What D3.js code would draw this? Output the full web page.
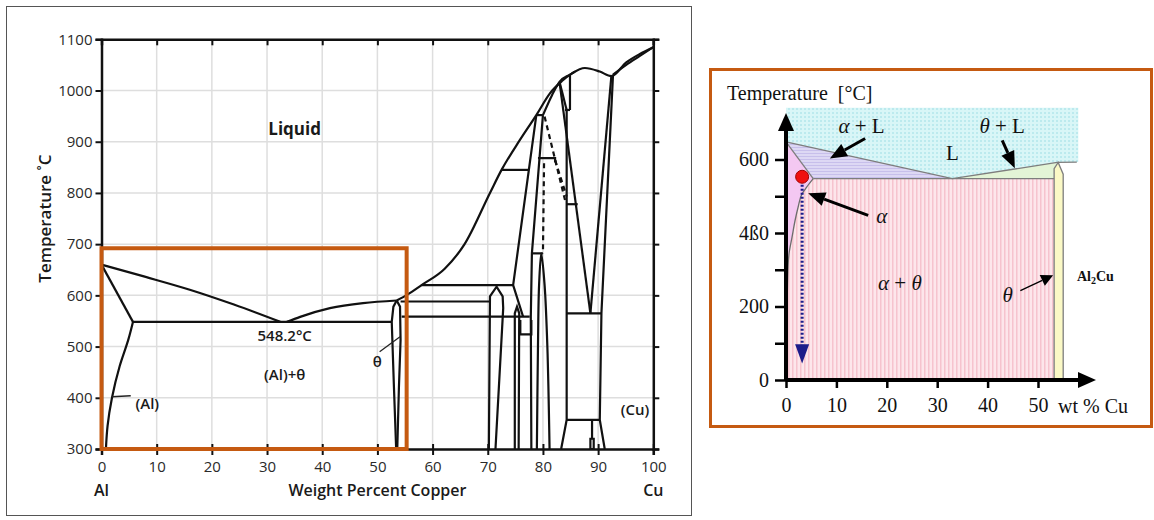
<!DOCTYPE html>
<html>
<head>
<meta charset="utf-8">
<script src="https://cdn.jsdelivr.net/npm/d3@7"></script>
<style>
  body { margin: 0; background: #fff; }
  svg { display: block; }
</style>
</head>
<body>
<svg id="chart" width="1154" height="520"></svg>
<script>
// ===== left panel: Al-Cu phase diagram, points are [wt% Cu, temperature C] =====
const wtTicks = d3.range(0, 101, 10)
const tempTicks = d3.range(300, 1101, 100)

const liquidusAl = [[0, 660], [8, 636], [16, 611], [24, 582], [32.4, 548.2]]
const liquidusTheta = [[33.6, 548.2], [36, 558], [41.4, 575], [47.4, 585], [53.5, 590]]
const liquidusCu = [[53.5, 590], [55.5, 602], [58, 620], [62.2, 652], [65.8, 700], [70.4, 800],
  [72.5, 845], [75.8, 903], [78.8, 952], [81.3, 995], [83.4, 1018], [85.2, 1033], [87.6, 1044],
  [90.3, 1037], [92.4, 1028], [95.1, 1055], [97.5, 1071], [100, 1084.6]]
const solidusAl = [[0, 660], [5.7, 548.2]]
const eutectic = [[5.7, 548.2], [52.6, 548.2]]
const solvusAl = [[5.7, 548.2], [4.9, 515], [3.3, 462], [1.9, 400], [1.1, 345], [0.85, 310], [0.8, 300]]
const thetaLeft = [[53.5, 590], [52.9, 578], [52.6, 548.2], [53.0, 420], [53.4, 300]]
const thetaRight = [[53.5, 590], [54.1, 578], [54.2, 513], [53.9, 420], [53.6, 300]]
const h620 = [[58, 620], [74.6, 620]]
const h588 = [[54.2, 588], [70.4, 588]]
const h558 = [[54.4, 558.4], [77.6, 558.4]]
const h845 = [[72.5, 845], [77.5, 845]]
const h952 = [[78.8, 952], [80.0, 952]]
const h868 = [[79.1, 868], [82.2, 868], [82.2, 860]]
const h778 = [[84.3, 778], [86.3, 778]]
const h962 = [[84.0, 962], [84.9, 962]]
const h682 = [[78.0, 682], [80.0, 682]]
const h565 = [[84.2, 565], [90.6, 565]]
const h357 = [[84.3, 357], [90.3, 357]]
const etaHouse = [[70.2, 300], [70.4, 598], [71.6, 617], [72.7, 598], [72.8, 575], [71.4, 300]]
const smallHouse = [[74.9, 300], [74.9, 565], [75.3, 578], [75.7, 565], [75.6, 300]]
const smallBox = [[75.9, 552], [75.9, 524], [77.9, 524], [77.9, 552]]
const gammaLeft = [[78.8, 952], [74.6, 620], [76.4, 558.4]]
const gammaRight = [[80.0, 952], [78.0, 682], [77.8, 558.4], [77.9, 300]]
const dome = [[78.9, 300], [79.1, 500], [79.3, 620], [79.7, 682], [80.3, 620], [80.8, 500], [81.2, 300]]
const solidusBeta = [[80.0, 952], [81.6, 990], [83.0, 1017], [84.9, 1031], [85.8, 1037]]
const betaStep = [[83.0, 1017], [84.3, 962]]
const gamma1 = [[84.3, 962], [84.3, 357], [83.3, 300]]
const betaTick = [[84.9, 1031], [84.9, 962]]
const vLeft = [[83.0, 1017], [88.6, 565]]
const vRight = [[92.4, 1028], [88.6, 565]]
const solvusCu = [[92.7, 1031], [90.6, 565], [90.3, 357], [91.2, 300]]
const solidusCu = [[92.7, 1031], [95.1, 1050], [97.5, 1067], [100, 1084.6]]
const alpha2 = [[88.9, 357], [88.9, 320], [88.6, 320], [88.6, 300], [89.2, 300], [89.2, 320], [88.9, 320]]
const dash1 = [[80.3, 949], [84.0, 786]]
const dash2 = [[82.2, 864], [84.3, 793]]
const dash3 = [[80.2, 858], [80.0, 682]]
const thetaLeader = [[54.1, 519], [50.4, 490]]
const alLeader = [[1.9, 402], [5.3, 404]]
const zoomBox = [[0, 300], [0, 692], [55.3, 692], [55.3, 300]]

// ===== right panel: schematic, points are [wt% Cu, temperature C] =====
const rTempTicks = [0, 200, 400, 600]
const rTempLabels = ['0', '200', '4ß0', '600']
const rMinorTicks = [100, 300, 500]
const rWtTicks = [0, 10, 20, 30, 40, 50]
const rLiquidus = [[0, 648], [33, 548], [53.8, 592], [57.7, 593]]
const rSolidus = [[0, 648], [5.4, 548]]
const rEutectic = [[5.4, 548], [53.2, 548]]
const rSolvus = [[5.4, 548], [4.1, 525], [3.2, 507], [2.4, 470], [1.8, 434], [1.2, 389], [0.6, 344], [0.4, 308], [0.2, 171]]
const rTheta = [[53.2, 0], [53.2, 575], [54, 592], [55, 560], [55, 0]]
const rLiquidBox = [[0, 741], [58, 741], [58, 593], [53.8, 592], [33, 548], [0, 648]]
const alloyPoint = [3.2, 553]
const coolEnd = 45

const svg = d3.select('#chart')
const defs = svg.append('defs')

// ---------------- left panel ----------------
const xL = d3.scaleLinear().domain([0, 100]).range([101.5, 653.3])
const yL = d3.scaleLinear().domain([300, 1100]).range([449, 39.3])
const lineL = d3.line().x(d => xL(d[0])).y(d => yL(d[1]))
const smoothX = d3.line().x(d => xL(d[0])).y(d => yL(d[1])).curve(d3.curveMonotoneX)
const smoothY = d3.line().x(d => xL(d[0])).y(d => yL(d[1])).curve(d3.curveMonotoneY)
const roundL = d3.line().x(d => xL(d[0])).y(d => yL(d[1])).curve(d3.curveCatmullRom)

const left = svg.append('g')
left.append('rect').attr('x', 6.5).attr('y', 6.5).attr('width', 685).attr('height', 509)
  .attr('fill', '#fff').attr('stroke', '#555').attr('stroke-width', 1)

// grid
left.append('g').selectAll('line.gx').data(wtTicks.slice(1, -1)).join('line')
  .attr('x1', d => xL(d)).attr('x2', d => xL(d)).attr('y1', yL(300)).attr('y2', yL(1100))
  .attr('stroke', '#dedede').attr('stroke-width', 1.5)
left.append('g').selectAll('line.gy').data(tempTicks.slice(1, -1)).join('line')
  .attr('y1', d => yL(d)).attr('y2', d => yL(d)).attr('x1', xL(0)).attr('x2', xL(100))
  .attr('stroke', '#dedede').attr('stroke-width', 1.5)

const styleAxis = g => {
  g.select('.domain').attr('stroke', '#111').attr('stroke-width', 2.5)
  g.selectAll('.tick line').attr('stroke', '#111').attr('stroke-width', 2)
  g.selectAll('.tick text').attr('fill', '#2a2a2a').style('font', '15px "Open Sans"')
}

left.append('g').attr('transform', `translate(${xL(0)},0)`)
  .call(d3.axisLeft(yL).tickValues(tempTicks).tickSize(6).tickPadding(3).tickFormat(d3.format('d')))
  .call(styleAxis)
left.append('g').attr('transform', `translate(${xL(100)},0)`)
  .call(d3.axisRight(yL).tickValues(tempTicks).tickSize(6).tickFormat(''))
  .call(styleAxis)
left.append('g').attr('transform', `translate(0,${yL(1100)})`)
  .call(d3.axisTop(xL).tickValues(wtTicks).tickSize(-6).tickFormat(''))
  .call(styleAxis)
left.append('g').attr('transform', `translate(0,${yL(300)})`)
  .call(d3.axisBottom(xL).tickValues(wtTicks).tickSize(6).tickPadding(6))
  .call(styleAxis)
  .call(g => g.selectAll('.tick line').attr('y1', -5))

// phase boundaries
const solid = [solidusAl, eutectic, thetaLeft, thetaRight,
  h620, h588, h558, h845, h952, h868, h778, h962, h682, h565, h357, etaHouse, smallHouse, smallBox,
  gammaLeft, gammaRight, betaStep, gamma1, betaTick, vLeft, vRight, solvusCu, alpha2]
const stroke = sel => sel.attr('fill', 'none').attr('stroke', '#111').attr('stroke-width', 2.2)
left.append('g').selectAll('path').data(solid).join('path').attr('d', lineL).call(stroke)
left.append('g').selectAll('path').data([liquidusAl, liquidusTheta, liquidusCu, solidusBeta, solidusCu]).join('path')
  .attr('d', smoothX).call(stroke)
left.append('path').attr('d', smoothY(solvusAl)).call(stroke)
left.append('path').attr('d', roundL(dome)).call(stroke)
left.append('g').selectAll('path').data([dash1, dash2, dash3]).join('path')
  .attr('d', lineL).call(stroke).attr('stroke-dasharray', '5,4')
left.append('g').selectAll('path').data([thetaLeader, alLeader]).join('path')
  .attr('d', lineL).attr('fill', 'none').attr('stroke', '#222').attr('stroke-width', 1.3)

// orange highlight box
left.append('path').attr('d', lineL(zoomBox) + 'Z').attr('fill', 'none')
  .attr('stroke', '#c55a11').attr('stroke-width', 4)

// labels
const labL = (txt, x, y, size, weight) => left.append('text').attr('x', x).attr('y', y)
  .attr('text-anchor', 'middle').attr('dominant-baseline', 'central')
  .style('font', `${weight} ${size}px "Open Sans"`).attr('fill', '#1a1a1a').text(txt)
labL('Liquid', xL(35), yL(926), 17, 700)
labL('548.2°C', xL(33.2), yL(523), 15, 600)
labL('(Al)+θ', xL(33.2), yL(446), 15, 600)
labL('θ', xL(50), yL(472), 15, 600)
labL('(Al)', xL(8.3), yL(389), 15, 600)
labL('(Cu)', xL(96.7), yL(379), 15, 600)
labL('Al', xL(0), 490, 16, 600)
labL('Cu', xL(100), 490, 16, 600)
labL('Weight Percent Copper', xL(50), 490, 16, 600)
left.append('text').attr('transform', `translate(44,${yL(750)}) rotate(-90)`)
  .attr('text-anchor', 'middle').attr('dominant-baseline', 'central')
  .style('font', '600 17px "Open Sans"').attr('fill', '#1a1a1a').text('Temperature ˚C')

// ---------------- right panel ----------------
const xR = d3.scaleLinear().domain([0, 50]).range([786, 1038])
const yR = d3.scaleLinear().domain([0, 600]).range([380, 159.5])
const lineR = d3.line().x(d => xR(d[0])).y(d => yR(d[1]))
const curveR = d3.line().x(d => xR(d[0])).y(d => yR(d[1])).curve(d3.curveMonotoneY)

const pat = (id, w, h, bg, draw) => {
  const p = defs.append('pattern').attr('id', id).attr('patternUnits', 'userSpaceOnUse')
    .attr('width', w).attr('height', h)
  p.append('rect').attr('width', w).attr('height', h).attr('fill', bg)
  draw(p)
}
pat('dots', 4, 4, '#d9f6f7', p => p.append('circle').attr('cx', 1).attr('cy', 1).attr('r', 1).attr('fill', '#b3e6ec'))
pat('hlines', 4, 3, '#ddd8f4', p => p.append('rect').attr('width', 4).attr('height', 1).attr('fill', '#c7bfeb'))
pat('vlines', 4, 4, '#fde6eb', p => p.append('rect').attr('width', 1.5).attr('height', 4).attr('fill', '#f6c3ce'))

const right = svg.append('g')
right.append('rect').attr('x', 710.5).attr('y', 69.5).attr('width', 441).attr('height', 357)
  .attr('fill', '#fff').attr('stroke', '#c55a11').attr('stroke-width', 3)

const alphaRegion = rSolidus.concat(rSolvus.slice(1), [[0, 171]])
const alphaTheta = [[0, 0], [0, 171]].concat(rSolvus.slice().reverse(), [[53.2, 548], [53.2, 0]])
const thetaL = [[33, 548], [53.8, 592], [53.2, 575], [53.2, 548]]
const alphaL = [[0, 648], [33, 548], [5.4, 548]]

right.append('path').attr('d', lineR(rLiquidBox) + 'Z').attr('fill', 'url(#dots)')
right.append('path').attr('d', lineR(alphaTheta) + 'Z').attr('fill', 'url(#vlines)')
right.append('path').attr('d', lineR(alphaRegion) + 'Z').attr('fill', '#f4c8f2')
right.append('path').attr('d', lineR(alphaL) + 'Z').attr('fill', 'url(#hlines)')
right.append('path').attr('d', lineR(thetaL) + 'Z').attr('fill', '#e3f4d6')
right.append('path').attr('d', lineR(rTheta) + 'Z').attr('fill', '#fbf9c6')

right.append('g').selectAll('path').data([rLiquidus, rSolidus, rEutectic, rTheta]).join('path')
  .attr('d', lineR).attr('fill', 'none').attr('stroke', '#7d7d7d').attr('stroke-width', 1.3)
right.append('path').attr('d', curveR(rSolvus)).attr('fill', 'none')
  .attr('stroke', '#6d6d6d').attr('stroke-width', 1.3)
right.append('path').attr('d', lineR([[0.2, 308], [0.2, 171]])).attr('stroke', '#333').attr('stroke-width', 2)

// axes with arrow heads
const serif = '"Liberation Serif", "Times New Roman", serif'
right.append('g').attr('transform', `translate(${xR(0)},0)`)
  .call(d3.axisLeft(yR).tickValues(rTempTicks.concat(rMinorTicks)).tickSize(11)
    .tickFormat(d => { const i = rTempTicks.indexOf(d); return i < 0 ? '' : rTempLabels[i] }).tickPadding(6))
  .call(g => {
    g.select('.domain').remove()
    g.selectAll('.tick line').attr('stroke', '#000').attr('stroke-width', 2.5)
    g.selectAll('.tick text').attr('fill', '#111').style('font', `20px ${serif}`)
  })
right.append('g').attr('transform', `translate(0,${yR(0)})`)
  .call(d3.axisBottom(xR).tickValues(rWtTicks).tickSize(8).tickPadding(10))
  .call(g => {
    g.select('.domain').remove()
    g.selectAll('.tick line').attr('stroke', '#000').attr('stroke-width', 2.5)
    g.selectAll('.tick text').attr('fill', '#111').style('font', `20px ${serif}`)
  })

function arrow(g, x1, y1, x2, y2, len, half, width, color) {
  const a = Math.atan2(y2 - y1, x2 - x1)
  const bx = x2 - len * Math.cos(a), by = y2 - len * Math.sin(a)
  g.append('line').attr('x1', x1).attr('y1', y1).attr('x2', bx).attr('y2', by)
    .attr('stroke', color || '#000').attr('stroke-width', width)
  g.append('path').attr('fill', color || '#000')
    .attr('d', `M${x2},${y2}L${bx - half * Math.sin(a)},${by + half * Math.cos(a)}L${bx + half * Math.sin(a)},${by - half * Math.cos(a)}Z`)
}
arrow(right, xR(0), yR(0), xR(0), 113, 18, 8, 4)
arrow(right, xR(0), yR(0), 1096, yR(0), 18, 8, 4)

// cooling path
right.append('path').attr('d', lineR([alloyPoint, [alloyPoint[0], coolEnd + 50]]))
  .attr('stroke', '#1c1c8a').attr('stroke-width', 3).attr('stroke-dasharray', '2,2')
right.append('path').attr('fill', '#1c1c8a')
  .attr('d', `M${xR(alloyPoint[0]) - 7},${yR(coolEnd + 52)}L${xR(alloyPoint[0]) + 7},${yR(coolEnd + 52)}L${xR(alloyPoint[0])},${yR(coolEnd)}Z`)
right.append('circle').attr('cx', xR(alloyPoint[0])).attr('cy', yR(alloyPoint[1])).attr('r', 6.5)
  .attr('fill', '#f01010').attr('stroke', '#a00000').attr('stroke-width', 1)

// annotation arrows
arrow(right, xR(15.7), yR(657), xR(8.7), yR(603), 17, 7, 3)
arrow(right, xR(42.9), yR(652), xR(45.4), yR(576), 17, 7, 3)
arrow(right, xR(16.3), yR(448), xR(4.4), yR(508), 17, 7, 3)
arrow(right, xR(46.5), yR(243), xR(53), yR(285), 12, 6, 1.3)

const labR = (txt, x, y, italic) => right.append('text').attr('x', x).attr('y', y)
  .attr('text-anchor', 'middle').attr('dominant-baseline', 'central')
  .style('font', `${italic ? 'italic ' : ''}21px ${serif}`).attr('fill', '#111').text(txt)
const mixR = (parts, x, y) => {
  const t = right.append('text').attr('x', x).attr('y', y).attr('text-anchor', 'middle')
    .attr('dominant-baseline', 'central').style('font', `21px ${serif}`).attr('fill', '#111')
  parts.forEach(p => t.append('tspan').style('font-style', p[1] ? 'italic' : 'normal').text(p[0]))
}
mixR([['α', 1], [' + L', 0]], xR(15), yR(692))
mixR([['θ', 1], [' + L', 0]], xR(42.9), yR(692))
labR('L', xR(33), yR(617), false)
labR('α', xR(19), yR(447), true)
mixR([['α', 1], [' + ', 0], ['θ', 1]], xR(22.6), yR(263))
labR('θ', xR(44), yR(231), true)

const al2 = right.append('text').attr('x', 1077).attr('y', yR(282)).attr('dominant-baseline', 'central')
  .style('font', `bold 14px ${serif}`).attr('fill', '#111')
al2.append('tspan').text('Al')
al2.append('tspan').attr('dy', 4).style('font-size', '10px').text('2')
al2.append('tspan').attr('dy', -4).text('Cu')

right.append('text').attr('x', 727).attr('y', 93).attr('dominant-baseline', 'central')
  .style('font', `20px ${serif}`).attr('fill', '#111').attr('xml:space', 'preserve')
  .text('Temperature  [°C]')
right.append('text').attr('x', 1058).attr('y', yR(0) + 26).attr('dominant-baseline', 'central')
  .style('font', `20px ${serif}`).attr('fill', '#111').attr('xml:space', 'preserve')
  .text('wt % Cu')
</script>
</body>
</html>
